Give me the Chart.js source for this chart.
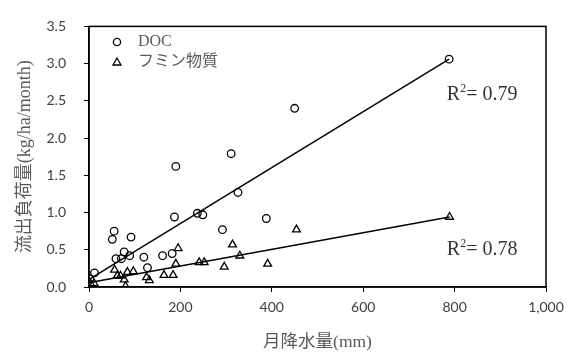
<!DOCTYPE html>
<html>
<head>
<meta charset="utf-8">
<script src="https://cdn.jsdelivr.net/npm/chart.js@4/dist/chart.umd.min.js"></script>
<style>
  html, body { margin: 0; padding: 0; background: #fff; }
</style>
</head>
<body>
<canvas id="chart" width="573" height="355"></canvas>
<script>
// DOC (circles)
const docX = [2, 12, 51, 55, 59, 71, 77, 89, 92, 120, 128, 161, 182, 187, 190, 237, 249, 292, 311, 326, 388, 450, 788];
const docY = [0.11, 0.19, 0.64, 0.75, 0.38, 0.38, 0.47, 0.42, 0.67, 0.40, 0.26, 0.42, 0.45, 0.94, 1.62, 0.99, 0.97, 0.77, 1.79, 1.27, 0.92, 2.40, 3.06];

// フミン物質 (triangles)
const humX = [4, 11, 56, 62, 69, 77, 80, 84, 97, 126, 132, 164, 184, 190, 195, 241, 252, 296, 314, 330, 391, 454, 789];
const humY = [0.04, 0.05, 0.23, 0.15, 0.15, 0.10, 0.01, 0.20, 0.21, 0.13, 0.09, 0.16, 0.16, 0.31, 0.52, 0.33, 0.33, 0.27, 0.57, 0.42, 0.31, 0.77, 0.94];

// trend line end points
const docTrendX = [2, 788];
const docTrendY = [0.11, 3.06];
const humTrendX = [2, 789];
const humTrendY = [0.06, 0.94];

const r2Labels = ['0.79', '0.78'];
const r2Pos = [[783, 2.6], [783, 0.52]];

const xTicks = [0, 200, 400, 600, 800, 1000];
const yTicks = [0, 0.5, 1.0, 1.5, 2.0, 2.5, 3.0, 3.5];

const toPoints = (xs, ys) => xs.map((x, i) => ({ x: x, y: ys[i] }));

const serif = "'Liberation Serif', 'Noto Sans CJK JP', serif";

// frame, legend and R² labels
const extras = {
  id: 'extras',
  afterDraw(chart) {
    const { ctx, chartArea: a, scales } = chart;
    ctx.save();
    ctx.strokeStyle = '#000';
    ctx.lineWidth = 1.5;
    ctx.strokeRect(a.left, a.top, a.right - a.left, a.bottom - a.top);

    // legend
    ctx.lineWidth = 1.3;
    ctx.beginPath();
    ctx.arc(117, 42, 3.6, 0, Math.PI * 2);
    ctx.stroke();
    ctx.beginPath();
    ctx.moveTo(117, 58);
    ctx.lineTo(121, 65);
    ctx.lineTo(113, 65);
    ctx.closePath();
    ctx.stroke();
    ctx.fillStyle = '#595959';
    ctx.font = '16px ' + serif;
    ctx.textBaseline = 'middle';
    ctx.fillText(chart.data.datasets[0].label, 138, 42);
    ctx.fillText(chart.data.datasets[1].label, 138, 62);

    // R² annotations
    ctx.fillStyle = '#333';
    r2Labels.forEach((v, i) => {
      const x = scales.x.getPixelForValue(r2Pos[i][0]);
      const y = scales.y.getPixelForValue(r2Pos[i][1]);
      ctx.textBaseline = 'alphabetic';
      ctx.font = '20px ' + serif;
      ctx.fillText('R', x, y + 7);
      let w = ctx.measureText('R').width;
      ctx.font = '12px ' + serif;
      ctx.fillText('2', x + w, y - 1);
      w += ctx.measureText('2').width;
      ctx.font = '20px ' + serif;
      ctx.fillText('= ' + v, x + w, y + 7);
    });
    ctx.restore();
  }
};

new Chart(document.getElementById('chart'), {
  type: 'scatter',
  data: {
    datasets: [
      {
        label: 'DOC',
        data: toPoints(docX, docY),
        pointStyle: 'circle',
        pointRadius: 3.8,
        borderColor: '#000',
        backgroundColor: 'rgba(0,0,0,0)',
        borderWidth: 1.3
      },
      {
        label: 'フミン物質',
        data: toPoints(humX, humY),
        pointStyle: 'triangle',
        pointRadius: 4.5,
        borderColor: '#000',
        backgroundColor: 'rgba(0,0,0,0)',
        borderWidth: 1.3
      },
      {
        label: 'DOC trend',
        data: toPoints(docTrendX, docTrendY),
        showLine: true,
        pointRadius: 0,
        borderColor: '#000',
        borderWidth: 1.5
      },
      {
        label: 'humic trend',
        data: toPoints(humTrendX, humTrendY),
        showLine: true,
        pointRadius: 0,
        borderColor: '#000',
        borderWidth: 1.5
      }
    ]
  },
  options: {
    responsive: false,
    animation: false,
    devicePixelRatio: 1,
    layout: { padding: { top: 19, right: 27, left: 0, bottom: 0 } },
    plugins: {
      legend: { display: false },
      tooltip: { enabled: false }
    },
    scales: {
      x: {
        type: 'linear',
        min: 0,
        max: 1000,
        afterBuildTicks: s => { s.ticks = xTicks.map(v => ({ value: v })); },
        afterFit: s => { s.height = 68; },
        ticks: {
          callback: v => v.toLocaleString('en-US'),
          color: '#404040',
          font: { family: 'Lato', size: 14 },
          padding: 7
        },
        grid: { drawOnChartArea: false, drawTicks: true, tickLength: 5, color: '#000' },
        border: { display: true, color: '#000', width: 1.5 },
        title: {
          display: true,
          text: '月降水量(mm)',
          color: '#595959',
          font: { family: serif, size: 17.5 },
          padding: { top: 0, bottom: 2 }
        }
      },
      y: {
        type: 'linear',
        min: 0,
        max: 3.5,
        afterBuildTicks: s => { s.ticks = yTicks.map(v => ({ value: v })); },
        afterFit: s => { s.width = 89; },
        ticks: {
          callback: v => v.toFixed(1),
          color: '#404040',
          font: { family: 'Lato', size: 14 },
          padding: 18
        },
        grid: { drawOnChartArea: false, drawTicks: true, tickLength: 5, color: '#000' },
        border: { display: true, color: '#000', width: 1.5 },
        title: {
          display: true,
          text: '流出負荷量(kg/ha/month)',
          color: '#595959',
          font: { family: serif, size: 18 },
          padding: { top: 14, bottom: 0 }
        }
      }
    }
  },
  plugins: [extras]
});
</script>
</body>
</html>
